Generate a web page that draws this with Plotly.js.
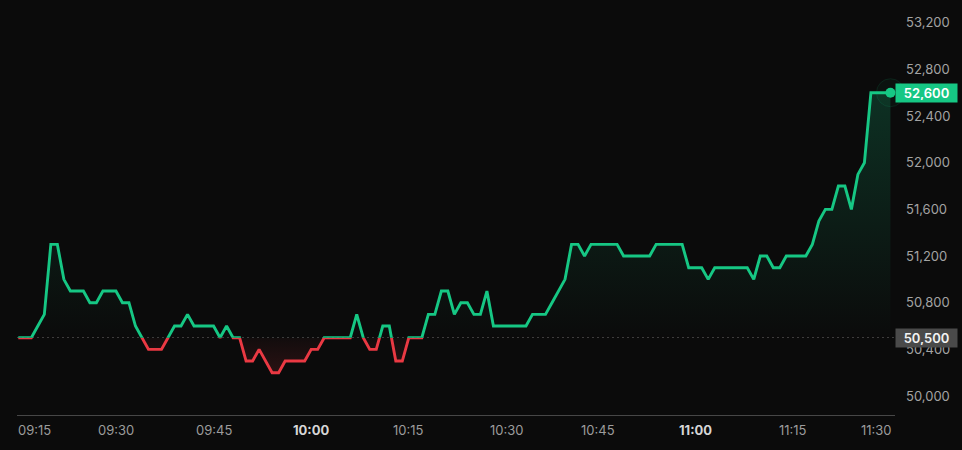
<!DOCTYPE html>
<html><head><meta charset="utf-8">
<script src="https://cdn.plot.ly/plotly-3.0.1.min.js"></script>
<style>html,body{margin:0;padding:0;background:#0b0b0b;overflow:hidden}#chart{width:962px;height:450px}</style>
</head><body><div id="chart"></div>
<script>
// ---- data ----
const times = [
'09:15','09:16','09:17','09:18','09:19','09:20','09:21','09:22','09:23','09:24','09:25','09:26','09:27','09:28','09:29',
'09:30','09:31','09:32','09:33','09:34','09:35','09:36','09:37','09:38','09:39','09:40','09:41','09:42','09:43','09:44',
'09:45','09:46','09:47','09:48','09:49','09:50','09:51','09:52','09:53','09:54','09:55','09:56','09:57','09:58','09:59',
'10:00','10:01','10:02','10:03','10:04','10:05','10:06','10:07','10:08','10:09','10:10','10:11','10:12','10:13','10:14',
'10:15','10:16','10:17','10:18','10:19','10:20','10:21','10:22','10:23','10:24','10:25','10:26','10:27','10:28','10:29',
'10:30','10:31','10:32','10:33','10:34','10:35','10:36','10:37','10:39','10:40','10:41','10:42','10:43','10:44',
'10:45','10:46','10:47','10:48','10:49','10:50','10:51','10:52','10:53','10:54','10:55','10:56','10:57','10:58','10:59',
'11:00','11:01','11:02','11:03','11:04','11:05','11:06','11:07','11:08','11:09','11:10','11:11','11:12','11:13','11:14',
'11:15','11:16','11:17','11:18','11:19','11:20','11:21','11:22','11:23','11:24','11:25','11:26','11:27','11:28','11:29',
'11:30'];
const prices = [
50500,50500,50500,50600,50700,51300,51300,51000,50900,50900,50900,50800,50800,50900,50900,
50900,50800,50800,50600,50500,50400,50400,50400,50500,50600,50600,50700,50600,50600,50600,
50600,50500,50600,50500,50500,50300,50300,50400,50300,50200,50200,50300,50300,50300,50300,
50400,50400,50500,50500,50500,50500,50500,50700,50500,50400,50400,50600,50600,50300,50300,
50500,50500,50500,50700,50700,50900,50900,50700,50800,50800,50700,50700,50900,50600,50600,
50600,50600,50600,50600,50700,50700,50700,50800,50900,51000,51300,51300,51200,51300,
51300,51300,51300,51300,51200,51200,51200,51200,51200,51300,51300,51300,51300,51300,51100,
51100,51100,51000,51100,51100,51100,51100,51100,51100,51000,51200,51200,51100,51100,51200,
51200,51200,51200,51300,51500,51600,51600,51800,51800,51600,51900,52000,52600,52600,52600,
52600];
const basePrice = 50500;
const yTickValues = [50000,50400,50800,51200,51600,52000,52400,52800,53200];
const xTickLabels = ['09:15','09:30','09:45','10:00','10:15','10:30','10:45','11:00','11:15','11:30'];
const boldTickLabels = ['10:00','11:00'];

// ---- style ----
const GREEN = '#16c784', RED = '#ea3943', BG = '#0b0b0b';
const K = 8.572;            // price units per pixel
const H = 415;              // plot height px
const basePx = 77.3;        // baseline height above bottom (px)
const split = basePx / H;
const lowRange = [basePrice - basePx * K, basePrice];
const upRange = [basePrice, basePrice + (H - basePx) * K];

const fmt = v => v.toLocaleString('en-US');
const last = prices.length - 1;
const polyX = [times[0]].concat(times, [times[last]]);
const polyY = [basePrice].concat(prices, [basePrice]);

const traces = [
  {x: polyX, y: polyY, xaxis: 'x', yaxis: 'y2', type: 'scatter', mode: 'lines', fill: 'toself',
   line: {width: 0}, hoverinfo: 'skip',
   fillgradient: {type: 'vertical', start: basePrice, stop: Math.max(...prices),
     colorscale: [[0, 'rgba(22,199,132,0.0)'], [1, 'rgba(22,199,132,0.20)']]}},
  {x: polyX, y: polyY, xaxis: 'x', yaxis: 'y', type: 'scatter', mode: 'lines', fill: 'toself',
   line: {width: 0}, hoverinfo: 'skip',
   fillgradient: {type: 'vertical', start: Math.min(...prices), stop: basePrice,
     colorscale: [[0, 'rgba(234,57,67,0.14)'], [1, 'rgba(234,57,67,0.03)']]}},
  {x: times, y: prices, xaxis: 'x', yaxis: 'y2', type: 'scatter', mode: 'lines',
   line: {color: GREEN, width: 2.9, shape: 'linear'}, hoverinfo: 'skip'},
  {x: times, y: prices, xaxis: 'x', yaxis: 'y', type: 'scatter', mode: 'lines',
   line: {color: RED, width: 2.9, shape: 'linear'}, hoverinfo: 'skip'},
  {x: [times[last]], y: [prices[last]], xaxis: 'x', yaxis: 'y2', type: 'scatter', mode: 'markers',
   cliponaxis: false, hoverinfo: 'skip',
   marker: {size: 28, color: 'rgba(22,199,132,0.04)', line: {color: 'rgba(22,199,132,0.12)', width: 1}}},
  {x: [times[last]], y: [prices[last]], xaxis: 'x', yaxis: 'y2', type: 'scatter', mode: 'markers',
   cliponaxis: false, hoverinfo: 'skip',
   marker: {size: 10, color: GREEN}}
];

const axisFont = {family: 'Inter, "Noto Sans", sans-serif', size: 13, color: '#a3a3a3'};

const annotations = xTickLabels.map((t, k) => {
  const bold = boldTickLabels.includes(t);
  return {
    x: times.indexOf(t), xref: 'x', y: 0, yref: 'paper', yshift: -15, yanchor: 'middle',
    xanchor: k === 0 ? 'left' : (k === xTickLabels.length - 1 ? 'right' : 'center'),
    xshift: k === 0 ? -2 : (k === xTickLabels.length - 1 ? 4 : 0),
    showarrow: false,
    text: bold ? '<b>' + t + '</b>' : t,
    font: {family: 'Inter, "Noto Sans", sans-serif', size: 13, color: bold ? '#d6d6d6' : '#9c9c9c'}
  };
});
annotations.push({
  x: 1, xref: 'paper', y: prices[last], yref: 'y2', xanchor: 'left', yanchor: 'middle',
  showarrow: false, text: fmt(prices[last]), bgcolor: GREEN, borderpad: 2, width: 57, height: 14,
  font: {family: 'Inter, "Noto Sans", sans-serif', size: 13, color: '#ffffff', weight: 600}
});
annotations.push({
  x: 1, xref: 'paper', y: basePrice, yref: 'y2', xanchor: 'left', yanchor: 'middle',
  showarrow: false, text: fmt(basePrice), bgcolor: '#4a4a4a', borderpad: 2, width: 57, height: 14,
  font: {family: 'Inter, "Noto Sans", sans-serif', size: 13, color: '#f2f2f2', weight: 600}
});

const layout = {
  width: 962, height: 450,
  margin: {l: 17, r: 67, t: 0, b: 35},
  paper_bgcolor: BG, plot_bgcolor: BG,
  showlegend: false,
  xaxis: {type: 'category', range: [-0.2, last + 0.7], anchor: 'y', showgrid: false, zeroline: false,
    showline: true, linecolor: '#474747', linewidth: 1, ticks: '', showticklabels: false, fixedrange: true},
  yaxis: {domain: [0, split], range: lowRange, side: 'right', anchor: 'x', showgrid: false, zeroline: false,
    tickvals: yTickValues.filter(v => v < basePrice), tickformat: ',', ticks: '', ticklabelstandoff: 10,
    tickfont: axisFont, showline: false},
  yaxis2: {domain: [split, 1], range: upRange, side: 'right', anchor: 'x', showgrid: false, zeroline: false,
    tickvals: yTickValues.filter(v => v > basePrice), tickformat: ',', ticks: '', ticklabelstandoff: 10,
    tickfont: axisFont, showline: false},
  shapes: [{type: 'line', xref: 'paper', x0: 0, x1: 1, yref: 'y2', y0: basePrice, y1: basePrice,
    layer: 'below', line: {color: '#5e5e5e', width: 1, dash: '2px,3px'}}],
  annotations: annotations
};

Plotly.newPlot('chart', traces, layout, {displayModeBar: false, staticPlot: true});
</script>
</body></html>
